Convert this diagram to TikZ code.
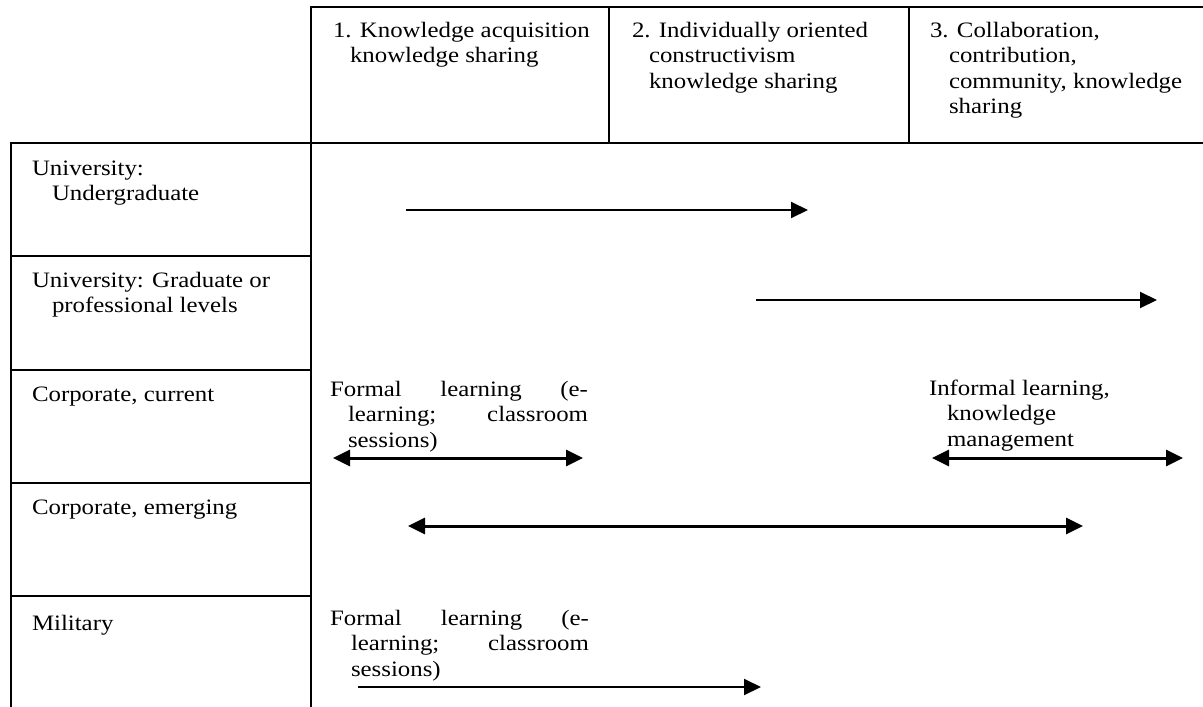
\documentclass[tikz,border=0pt]{standalone}
\usepackage{fontspec}
\setmainfont[FakeStretch=1.13]{Liberation Serif}
\usetikzlibrary{arrows.meta}
\begin{document}
\begin{tikzpicture}[x=1pt,y=-1pt,
  gridline/.style={line width=2pt, line cap=rect},
  lbl/.style={anchor=base west, inner sep=0pt, outer sep=0pt, font=\fontsize{22}{25.5}\selectfont},
  arr/.style={line width=2pt, -{Triangle[length=17pt,width=16pt]}},
  darr/.style={line width=3pt, {Triangle[length=17pt,width=16pt]}-{Triangle[length=17pt,width=16pt]}},
]
\useasboundingbox (0,0) rectangle (1203,707);
\fill[white] (0,0) rectangle (1203,707);
% table grid
\draw[gridline] (1210,7) -- (311,7) -- (311,715);
\draw[gridline] (609,7) -- (609,143);
\draw[gridline] (909,7) -- (909,143);
\draw[gridline] (1210,143) -- (11,143) -- (11,715);
\foreach \yy in {256,370,483,596} \draw[gridline] (11,\yy) -- (311,\yy);
% header texts
\node[lbl] (hdr1) at (333,37) {\vtop{\hbox{1. Knowledge acquisition}\hbox{\hspace*{17pt}knowledge sharing}}};
\node[lbl] (hdr2) at (632,37) {\vtop{\hbox{2. Individually oriented}\hbox{\hspace*{17pt}constructivism}\hbox{\hspace*{17pt}knowledge sharing}}};
\node[lbl] (hdr3) at (930,37) {\vtop{\hbox{3. Collaboration,}\hbox{\hspace*{19pt}contribution,}\hbox{\hspace*{19pt}community, knowledge}\hbox{\hspace*{19pt}sharing}}};
% row labels
\node[lbl] (row1) at (32,175) {\vtop{\hbox{University:}\hbox{\hspace*{20pt}Undergraduate}}};
\node[lbl] (row2) at (32,287) {\vtop{\hbox{University: Graduate or}\hbox{\hspace*{20pt}professional levels}}};
\node[lbl] (row3) at (32,401) {Corporate, current};
\node[lbl] (row4) at (32,514) {Corporate, emerging};
\node[lbl] (row5) at (32,630) {Military};
% cell texts
\node[lbl] (formalA) at (330,396) {\vtop{\hbox to 258pt{Formal\hfill learning\hfill (e-}\hbox{\hspace*{18pt}\hbox to 240pt{learning;\hfill classroom}}\hbox{\hspace*{18pt}sessions)}}};
\node[lbl] (informal) at (929,395) {\vtop{\hbox{Informal learning,}\hbox{\hspace*{18pt}knowledge}\hbox{\hspace*{18pt}management}}};
\node[lbl] (formalB) at (330,625) {\vtop{\hbox to 259pt{Formal\hfill learning\hfill (e-}\hbox{\hspace*{21pt}\hbox to 238pt{learning;\hfill classroom}}\hbox{\hspace*{21pt}sessions)}}};
% arrows
\coordinate (a1s) at (406,210); \coordinate (a1e) at (808,210);
\coordinate (a2s) at (756,300); \coordinate (a2e) at (1157,300);
\coordinate (a3s) at (333,458); \coordinate (a3e) at (583,458);
\coordinate (a4s) at (932,458); \coordinate (a4e) at (1183,458);
\coordinate (a5s) at (408,526); \coordinate (a5e) at (1083,526);
\coordinate (a6s) at (358,687); \coordinate (a6e) at (761,687);
\draw[arr] (a1s) -- (a1e);
\draw[arr] (a2s) -- (a2e);
\draw[darr] (a3s) -- (a3e);
\draw[darr] (a4s) -- (a4e);
\draw[darr] (a5s) -- (a5e);
\draw[arr] (a6s) -- (a6e);
\end{tikzpicture}
\end{document}
